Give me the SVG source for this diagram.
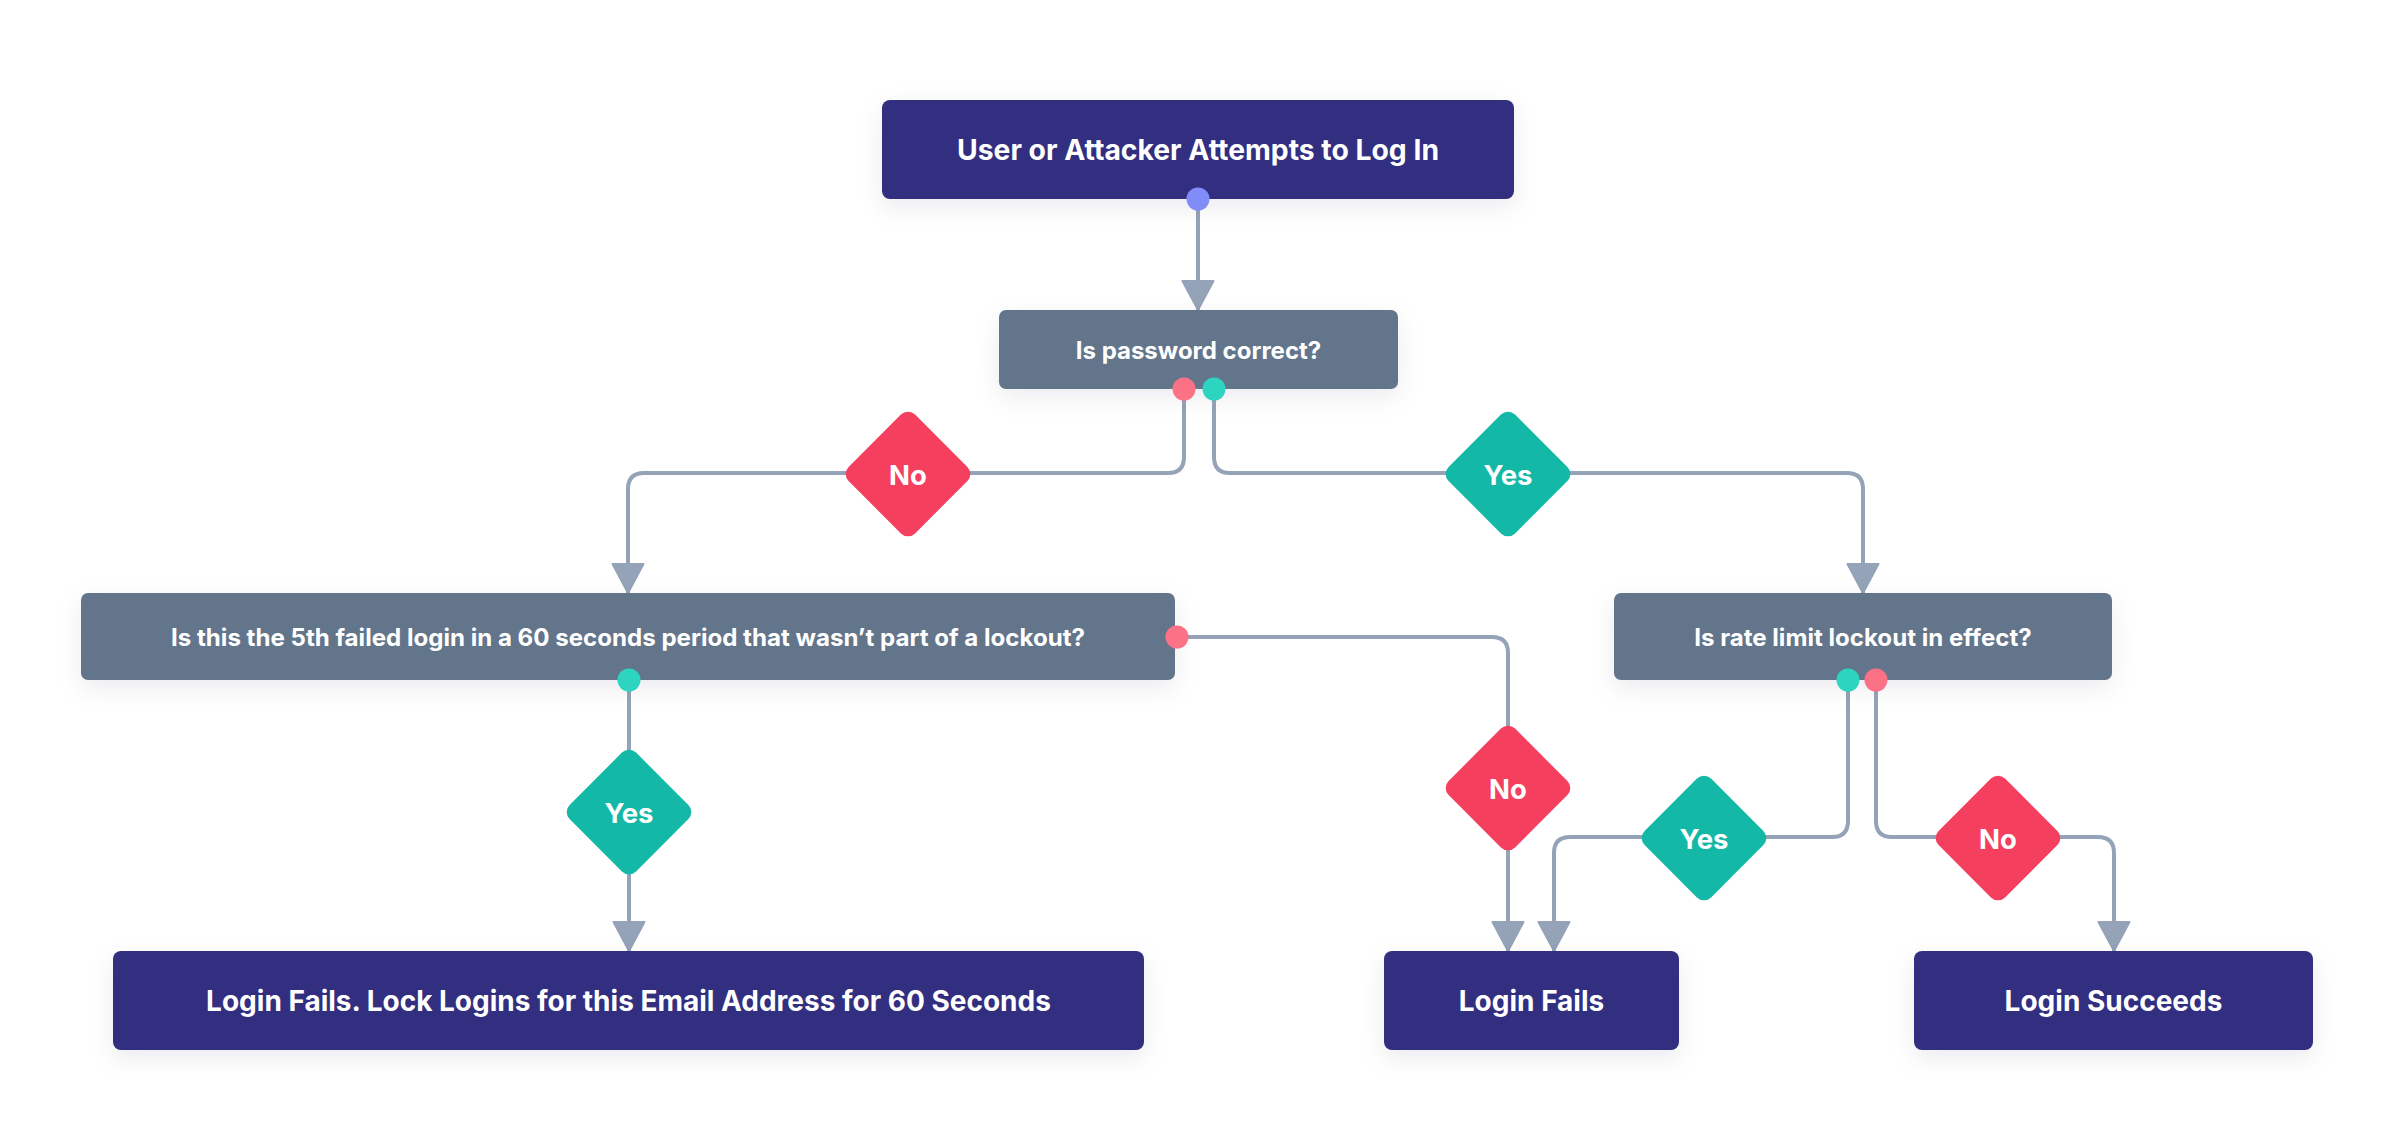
<svg xmlns="http://www.w3.org/2000/svg" width="2400" height="1132" viewBox="0 0 2400 1132">
<defs>
<filter id="sh" x="-10%" y="-30%" width="120%" height="180%">
<feDropShadow dx="0" dy="8" stdDeviation="12" flood-color="#1e293b" flood-opacity="0.08"/>
</filter>
<marker id="ah" viewBox="-2 -2 33 35" refX="29" refY="15.5" markerWidth="33" markerHeight="35" markerUnits="userSpaceOnUse" orient="auto">
<path d="M0 0 L29 15.5 L0 31 Z" fill="#94a3b8" stroke="#94a3b8" stroke-width="2" stroke-linejoin="round"/>
</marker>
</defs>
<style>
.t{font-family:Inter,"Noto Sans","Liberation Sans",sans-serif;font-weight:700;fill:#ffffff;text-anchor:middle;dominant-baseline:central}
.nav{fill:#332e80}
.sl{fill:#64748b}
.c{fill:none;stroke:#94a3b8;stroke-width:4;marker-end:url(#ah)}
.no{fill:#f43f5e}
.yes{fill:#14b8a6}
.pr{fill:#fb7185}
.pg{fill:#2dd4bf}
.pb{fill:#818cf8}
</style>
<rect width="2400" height="1132" fill="#ffffff"/>
<g id="connectors">
<path class="c" d="M1198 199 V310"/>
<path class="c" d="M1184 389 V457 Q1184 473 1168 473 H644 Q628 473 628 489 V593"/>
<path class="c" d="M1214 389 V457 Q1214 473 1230 473 H1847 Q1863 473 1863 489 V593"/>
<path class="c" d="M629 680 V951"/>
<path class="c" d="M1177 637 H1492 Q1508 637 1508 653 V951"/>
<path class="c" d="M1848 680 V821 Q1848 837 1832 837 H1570 Q1554 837 1554 853 V951"/>
<path class="c" d="M1876 680 V821 Q1876 837 1892 837 H2098 Q2114 837 2114 853 V951"/>
</g>
<g id="start">
<rect class="nav" x="882" y="100" width="632" height="99" rx="8" filter="url(#sh)"/>
<text class="t" x="1198" y="150" font-size="28.3">User or Attacker Attempts to Log In</text>
</g>
<g id="password">
<rect class="sl" x="999" y="310" width="399" height="79" rx="7" filter="url(#sh)"/>
<text class="t" x="1198.5" y="350" font-size="24">Is password correct?</text>
</g>
<g id="fifth">
<rect class="sl" x="81" y="593" width="1094" height="87" rx="7" filter="url(#sh)"/>
<text class="t" x="628" y="637" font-size="24.1">Is this the 5th failed login in a 60 seconds period that wasn’t part of a lockout?</text>
</g>
<g id="rate">
<rect class="sl" x="1614" y="593" width="498" height="87" rx="7" filter="url(#sh)"/>
<text class="t" x="1863" y="637" font-size="24.1">Is rate limit lockout in effect?</text>
</g>
<g id="lock">
<rect class="nav" x="113" y="951" width="1031" height="99" rx="8" filter="url(#sh)"/>
<text class="t" x="628.5" y="1001" font-size="28">Login Fails. Lock Logins for this Email Address for 60 Seconds</text>
</g>
<g id="fails">
<rect class="nav" x="1384" y="951" width="295" height="99" rx="8" filter="url(#sh)"/>
<text class="t" x="1531.5" y="1001" font-size="28">Login Fails</text>
</g>
<g id="succeeds">
<rect class="nav" x="1914" y="951" width="399" height="99" rx="8" filter="url(#sh)"/>
<text class="t" x="2113.5" y="1001" font-size="28">Login Succeeds</text>
</g>
<g id="d-no1">
<rect class="no" x="-47" y="-47" width="94" height="94" rx="10" transform="translate(908 474) rotate(45)"/>
<text class="t" x="908" y="475" font-size="27.5">No</text>
</g>
<g id="d-yes1">
<rect class="yes" x="-47" y="-47" width="94" height="94" rx="10" transform="translate(1508 474) rotate(45)"/>
<text class="t" x="1508" y="475" font-size="27.5">Yes</text>
</g>
<g id="d-yes2">
<rect class="yes" x="-47" y="-47" width="94" height="94" rx="10" transform="translate(629 812) rotate(45)"/>
<text class="t" x="629" y="813" font-size="27.5">Yes</text>
</g>
<g id="d-no2">
<rect class="no" x="-47" y="-47" width="94" height="94" rx="10" transform="translate(1508 788) rotate(45)"/>
<text class="t" x="1508" y="789" font-size="27.5">No</text>
</g>
<g id="d-yes3">
<rect class="yes" x="-47" y="-47" width="94" height="94" rx="10" transform="translate(1704 838) rotate(45)"/>
<text class="t" x="1704" y="839" font-size="27.5">Yes</text>
</g>
<g id="d-no3">
<rect class="no" x="-47" y="-47" width="94" height="94" rx="10" transform="translate(1998 838) rotate(45)"/>
<text class="t" x="1998" y="839" font-size="27.5">No</text>
</g>
<g id="ports">
<circle class="pb" cx="1198" cy="199" r="11.5"/>
<circle class="pr" cx="1184" cy="389" r="11.5"/>
<circle class="pg" cx="1214" cy="389" r="11.5"/>
<circle class="pr" cx="1177" cy="637" r="11.5"/>
<circle class="pg" cx="629" cy="680" r="11.5"/>
<circle class="pg" cx="1848" cy="680" r="11.5"/>
<circle class="pr" cx="1876" cy="680" r="11.5"/>
</g>
</svg>
